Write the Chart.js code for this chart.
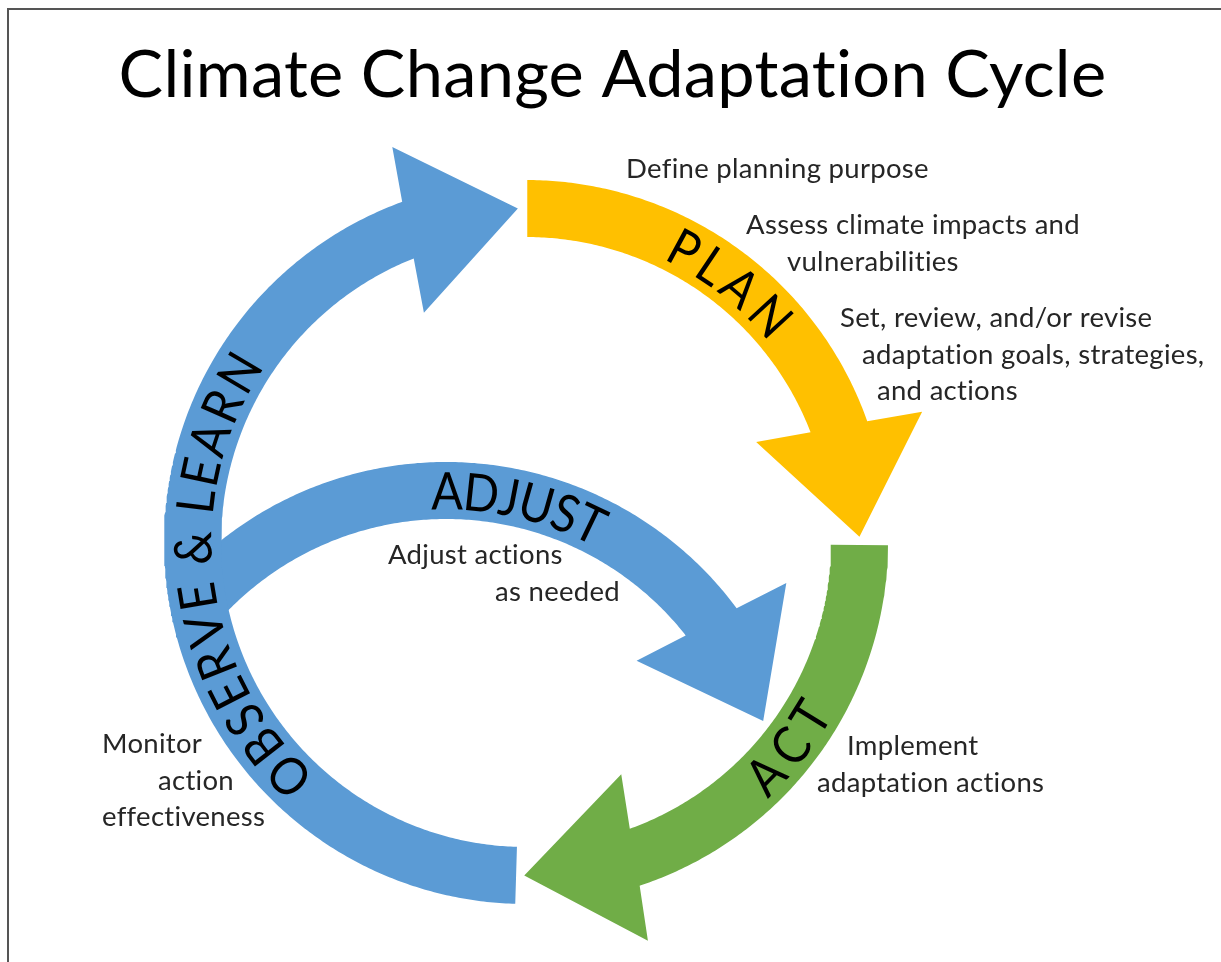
<!DOCTYPE html>
<html>
<head>
<meta charset="utf-8">
<title>Climate Change Adaptation Cycle</title>
<script src="https://cdn.jsdelivr.net/npm/chart.js@4.4.1/dist/chart.umd.min.js"></script>
<style>
    html, body { margin: 0; padding: 0; background: #fff; }
    #cycle { display: block; }
</style>
</head>
<body>
<canvas id="cycle" width="1221" height="962"></canvas>
<script>
// ---- data ----
const chartTitle = 'Climate Change Adaptation Cycle';
const stageNames = ['OBSERVE & LEARN', 'PLAN', 'ACT', 'ADJUST'];
// arrow tail and arrow tip, degrees clockwise from 3 o'clock
const arcStartDeg = [91.7, 270.2, 0.5, 223];
const arcTipDeg = [268.6, 359.1, 90.3, 342];
// which circle each arrow runs on
const stageRing = ['main', 'main', 'main', 'adjust'];
// stage name written along the arrow: first letter -> last letter
const nameFromDeg = [135.4, 298.4, 44.2, 270.2];
const nameToDeg = [210.6, 317.3, 31.6, 295.7];
const nameInward = [false, false, true, false];
const stageNotes = [
    ['Monitor', 'action', 'effectiveness'],
    ['Define planning purpose', 'Assess climate impacts and', 'vulnerabilities',
     'Set, review, and/or revise', 'adaptation goals, strategies,', 'and actions'],
    ['Implement', 'adaptation actions'],
    ['Adjust actions', 'as needed']
];

// ---- layout / style ----
const fontFamily = "Lato, 'Open Sans', 'Liberation Sans', sans-serif";
const stageColors = ['#5B9BD5', '#FFC000', '#70AD47', '#5B9BD5'];
const rings = { main: { x: 526, y: 542 }, adjust: { x: 446, y: 824 } };
const rOut = 362, rIn = 305, rMid = 333.5;
const head = { outerR: 417, innerR: 251, outerBack: 17.3, innerBack: 22.6, notchOut: 18.6, notchIn: 20.2 };
const titleSpot = { x: 612.5, y: 97, width: 985 };
const noteSpots = [
    [[102, 753], [158, 790], [102, 826]],
    [[626, 178], [746, 234], [787, 271], [840, 327], [862, 364], [877, 400]],
    [[847, 755], [817, 792]],
    [[388, 564], [495, 601]]
];
const noteRef = { text: 'Define planning purpose', width: 298 };
const nameSize = 52, nameSqueeze = 0.9;
const frame = { left: 8, top: 9 };

function ringPoint(c, deg, r) {
    const a = deg * Math.PI / 180;
    return { x: c.x + r * Math.cos(a), y: c.y + r * Math.sin(a) };
}

// outline of one curved arrow, tail -> outer edge -> head -> inner edge
function arrowOutline(i) {
    const c = rings[stageRing[i]];
    const a0 = arcStartDeg[i], t = arcTipDeg[i];
    const aOut = t - head.notchOut, aIn = t - head.notchIn;
    const pts = [];
    for (let a = a0; a < aOut; a += 0.5) pts.push(ringPoint(c, a, rOut));
    pts.push(ringPoint(c, aOut, rOut));
    pts.push(ringPoint(c, t - head.outerBack, head.outerR));
    pts.push(ringPoint(c, t, rMid));
    pts.push(ringPoint(c, t - head.innerBack, head.innerR));
    pts.push(ringPoint(c, aIn, rIn));
    for (let a = aIn - 0.5; a > a0; a -= 0.5) pts.push(ringPoint(c, a, rIn));
    pts.push(ringPoint(c, a0, rIn));
    pts.push(pts[0]);
    return pts;
}

function setFont(ctx, size) {
    ctx.font = size + 'px ' + fontFamily;
    // tiny spacing keeps the browser from joining "ti" / "ff" into ligatures
    ctx.letterSpacing = '0.3px';
}

function fitSize(ctx, text, width) {
    setFont(ctx, 100);
    return 100 * width / ctx.measureText(text).width;
}

const cycleText = {
    id: 'cycleText',
    beforeDraw(chart) {
        const ctx = chart.ctx;
        const px = v => chart.scales.x.getPixelForValue(v);
        const py = v => chart.scales.y.getPixelForValue(v);
        ctx.save();
        ctx.fillStyle = '#fff';
        ctx.fillRect(0, 0, chart.width, chart.height);
        ctx.strokeStyle = '#555';
        ctx.lineWidth = 2;
        ctx.beginPath();
        ctx.moveTo(px(frame.left), chart.height);
        ctx.lineTo(px(frame.left), py(frame.top));
        ctx.lineTo(chart.width, py(frame.top));
        ctx.stroke();
        ctx.restore();
    },
    afterDatasetsDraw(chart) {
        const ctx = chart.ctx;
        const px = v => chart.scales.x.getPixelForValue(v);
        const py = v => chart.scales.y.getPixelForValue(v);
        ctx.save();

        // title
        let size = fitSize(ctx, chartTitle, titleSpot.width);
        setFont(ctx, size);
        ctx.fillStyle = '#000';
        ctx.textAlign = 'center';
        ctx.textBaseline = 'alphabetic';
        ctx.fillText(chartTitle, px(titleSpot.x), py(titleSpot.y));

        // notes beside each stage
        size = fitSize(ctx, noteRef.text, noteRef.width);
        setFont(ctx, size);
        ctx.fillStyle = '#262626';
        ctx.textAlign = 'left';
        stageNotes.forEach((lines, i) => {
            lines.forEach((line, k) => {
                const s = noteSpots[i][k];
                ctx.fillText(line, px(s[0]), py(s[1]));
            });
        });

        // stage names along the arrows
        setFont(ctx, nameSize);
        ctx.letterSpacing = '0px';
        ctx.fillStyle = '#000';
        ctx.textAlign = 'center';
        const capH = ctx.measureText('H').actualBoundingBoxAscent;
        stageNames.forEach((word, i) => {
            const c = rings[stageRing[i]];
            const chars = [...word];
            const centers = [];
            let acc = 0;
            chars.forEach(ch => {
                const w = ctx.measureText(ch).width * nameSqueeze;
                centers.push(acc + w / 2);
                acc += w;
            });
            const first = centers[0], last = centers[centers.length - 1];
            chars.forEach((ch, k) => {
                const f = (centers[k] - first) / (last - first);
                const deg = nameFromDeg[i] + (nameToDeg[i] - nameFromDeg[i]) * f;
                const p = ringPoint(c, deg, rMid);
                const a = deg * Math.PI / 180;
                ctx.save();
                ctx.translate(px(p.x), py(p.y));
                ctx.rotate(a + (nameInward[i] ? -Math.PI / 2 : Math.PI / 2));
                ctx.scale(nameSqueeze, 1);
                ctx.fillText(ch, 0, capH / 2);
                ctx.restore();
            });
        });
        ctx.restore();
    }
};

const datasets = stageNames.map((name, i) => ({
    label: name,
    data: arrowOutline(i),
    showLine: true,
    fill: 'shape',
    backgroundColor: stageColors[i],
    borderColor: stageColors[i],
    borderWidth: 0,
    pointRadius: 0,
    pointHoverRadius: 0,
    tension: 0
}));

const cycleChart = new Chart(document.getElementById('cycle'), {
    type: 'scatter',
    data: { datasets: datasets },
    plugins: [cycleText],
    options: {
        responsive: false,
        animation: false,
        events: [],
        layout: { padding: 0 },
        scales: {
            x: { type: 'linear', min: 0, max: 1221, display: false },
            y: { type: 'linear', min: 0, max: 962, reverse: true, display: false }
        },
        plugins: {
            legend: { display: false },
            tooltip: { enabled: false },
            title: { display: false }
        }
    }
});
</script>
</body>
</html>
